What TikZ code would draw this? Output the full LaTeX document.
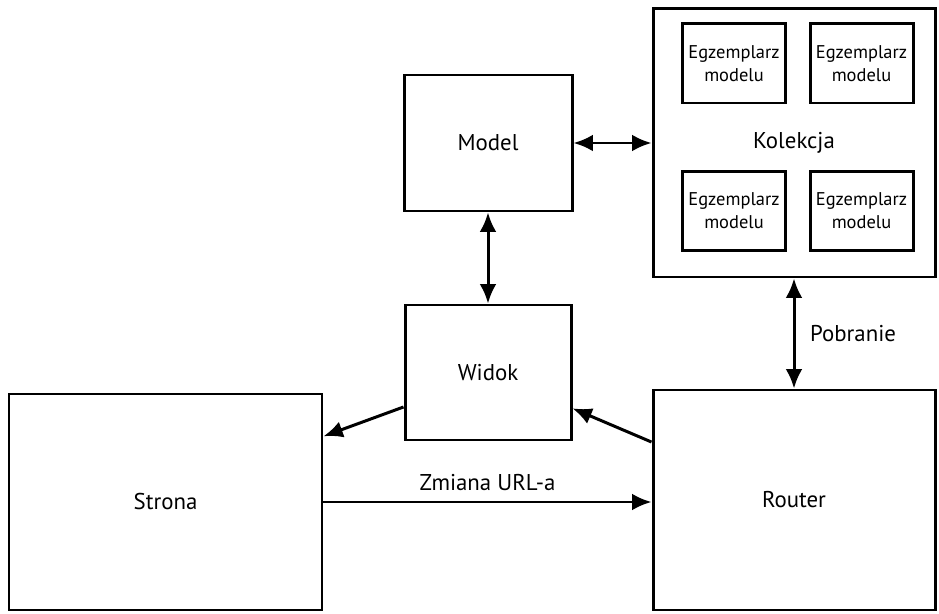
\documentclass[tikz,border=0pt]{standalone}
\usepackage{fontspec}
\setmainfont{PT Sans}
\usetikzlibrary{arrows.meta,calc}
\tikzset{
  box/.style={draw,line width=1.7pt,inner sep=0pt,font=\fontsize{13}{15}\selectfont},
  item/.style={draw,line width=1.7pt,inner sep=0pt,align=center,
    minimum width=103\unitpx,minimum height=79\unitpx,
    font=\fontsize{10.5}{13}\selectfont},
  link/.style={line width=1.7pt},
  lbl/.style={font=\fontsize{13}{15}\selectfont},
}
\newlength{\unitpx}
\setlength{\unitpx}{0.02cm}
\begin{document}
\begin{tikzpicture}[>={Latex[length=11pt,width=9.5pt]},x=0.02cm,y=-0.02cm]
		\useasboundingbox (0,0) rectangle (939,614);
		% main boxes
		\node[box,minimum width=168\unitpx,minimum height=136\unitpx] (model) at (488,143) {Model};
		\node[box,minimum width=282\unitpx,minimum height=268\unitpx] (kolekcja) at (794,143) {Kolekcja};
		\node[box,minimum width=166\unitpx,minimum height=135\unitpx] (widok) at (488,372.5) {Widok};
		\node[box,minimum width=313\unitpx,minimum height=216\unitpx] (strona) at (165.5,502) {Strona};
		\node[box,minimum width=282\unitpx,minimum height=220\unitpx] (router) at (794,500) {Router};
		% model instances
		\node[item] (egz1) at (734,63.5) {Egzemplarz\\modelu};
		\node[item] (egz2) at (861.5,63.5) {Egzemplarz\\modelu};
		\node[item] (egz3) at (734,211) {Egzemplarz\\modelu};
		\node[item] (egz4) at (861.5,211) {Egzemplarz\\modelu};
		% connections
		\draw[link,<->] (model.east) -- (kolekcja.west);
		\draw[link,<->] (model.south) -- (widok.north);
		\draw[link,<->] (kolekcja.south) -- node[lbl,right=5pt] (pobranie) {Pobranie} (router.north);
		\draw[link,->] ($(widok.south west)!0.25!(widok.north west)$) -- ($(strona.north east)!0.2!(strona.south east)$);
		\draw[link,->] ($(router.north west)!0.24!(router.south west)$) -- ($(widok.south east)!0.24!(widok.north east)$);
		\draw[link,->] (strona.east) -- node[lbl,above=2pt] (zmiana) {Zmiana URL-a} (strona.east -| router.west);
	\end{tikzpicture}
\end{document}
